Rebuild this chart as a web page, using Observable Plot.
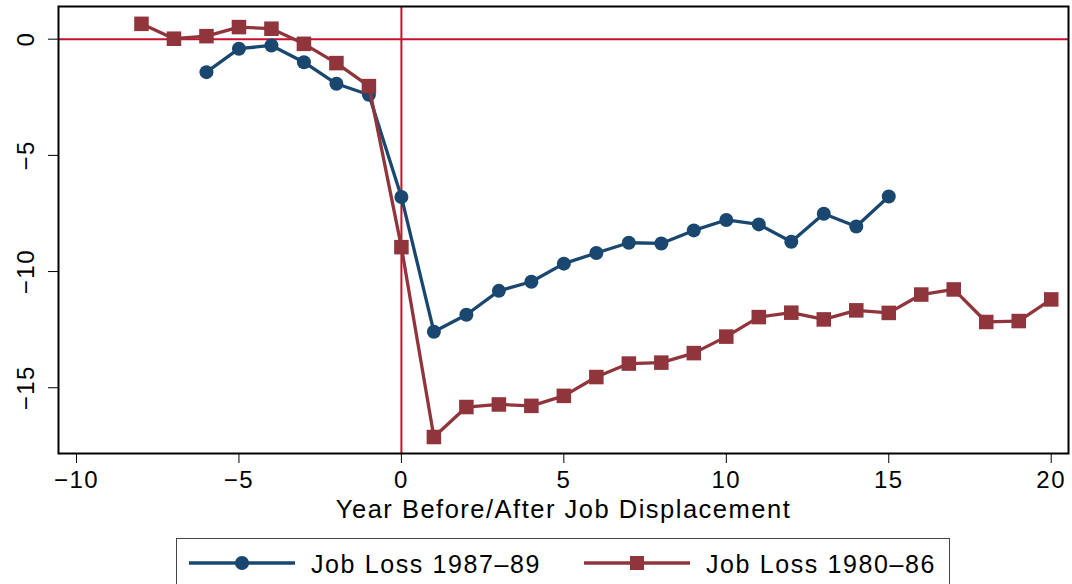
<!DOCTYPE html>
<html>
<head>
<meta charset="utf-8">
<script src="https://cdn.jsdelivr.net/npm/d3@7"></script>
<script src="https://cdn.jsdelivr.net/npm/@observablehq/plot@0.6"></script>
<style>
  html, body { margin: 0; padding: 0; background: #fff; }
  #wrap { position: relative; width: 1072px; height: 584px; overflow: hidden; font-family: "Liberation Sans", Arial, Helvetica, sans-serif; }
  #legend { position: absolute; left: 176px; top: 538px; width: 774px; height: 70px; border: 1.5px solid #444; box-sizing: border-box; }
  .item { position: absolute; top: 0; height: 50px; display: flex; align-items: center; }
  .item span { font-size: 25px; letter-spacing: 1.6px; color: #000; white-space: nowrap; }
</style>
</head>
<body>
<div id="wrap">
  <div id="chart"></div>
  <div id="legend"></div>
</div>
<script>
// ---- Data ----
const years1987 = [-6,-5,-4,-3,-2,-1,0,1,2,3,4,5,6,7,8,9,10,11,12,13,14,15];
const loss1987 = [-1.42,-0.41,-0.27,-0.99,-1.92,-2.39,-6.79,-12.59,-11.86,-10.83,-10.44,-9.66,-9.20,-8.76,-8.79,-8.23,-7.78,-7.97,-8.72,-7.51,-8.06,-6.77];

const years1980 = [-8,-7,-6,-5,-4,-3,-2,-1,0,1,2,3,4,5,6,7,8,9,10,11,12,13,14,15,16,17,18,19,20];
const loss1980 = [0.66,0.02,0.13,0.52,0.45,-0.20,-1.03,-2.02,-8.95,-17.12,-15.83,-15.72,-15.78,-15.35,-14.54,-13.96,-13.92,-13.51,-12.80,-11.96,-11.77,-12.06,-11.67,-11.78,-10.99,-10.77,-12.17,-12.13,-11.20];

const seriesNames = ["Job Loss 1987\u201389", "Job Loss 1980\u201386"];
const xTicks = [-10,-5,0,5,10,15,20];
const yTicks = [0,-5,-10,-15];
const xLabel = "Year Before/After Job Displacement";

// ---- Styles ----
const BLUE = "#1a476f";
const MAROON = "#90353b";
const REF = "#c8102e";

const d1987 = years1987.map((x, i) => ({x, y: loss1987[i]}));
const d1980 = years1980.map((x, i) => ({x, y: loss1980[i]}));

const chart = Plot.plot({
  width: 1072,
  height: 530,
  marginLeft: 58,
  marginRight: 4,
  marginTop: 6,
  marginBottom: 77,
  style: {fontFamily: '"Liberation Sans", Arial, Helvetica, sans-serif', fontSize: "24px", background: "white", color: "black", letterSpacing: "1.5px"},
  x: {domain: [-10.554, 20.532]},
  y: {domain: [-17.83, 1.406]},
  marks: [
    Plot.ruleY([0], {stroke: REF, strokeWidth: 2}),
    Plot.ruleX([0], {stroke: REF, strokeWidth: 2}),
    Plot.line(d1987, {x: "x", y: "y", stroke: BLUE, strokeWidth: 3.3}),
    Plot.dot(d1987, {x: "x", y: "y", r: 7, fill: BLUE, symbol: "circle"}),
    Plot.line(d1980, {x: "x", y: "y", stroke: MAROON, strokeWidth: 3.3}),
    Plot.dot(d1980, {x: "x", y: "y", r: 8.2, fill: MAROON, symbol: "square"}),
    Plot.frame({stroke: "black", strokeWidth: 2}),
    Plot.axisX({ticks: xTicks, tickSize: 10, tickPadding: 7, tickFormat: d3.format(""), fontSize: 24, label: null}),
    Plot.axisX({ticks: [], tickSize: 0, label: xLabel, labelAnchor: "center", labelArrow: "none", labelOffset: 64, fontSize: 25.5}),
    Plot.axisY({ticks: yTicks, tickSize: 10, tickRotate: -90, tickPadding: 15, tickFormat: d3.format(""), label: null, fontSize: 24})
  ]
});
document.getElementById("chart").appendChild(chart);

// ---- Legend ----
const legend = document.getElementById("legend");
const items = [
  {name: seriesNames[0], color: BLUE, symbol: "circle", left: 11, textLeft: 134},
  {name: seriesNames[1], color: MAROON, symbol: "square", left: 406, textLeft: 529}
];
for (const it of items) {
  const sw = document.createElementNS("http://www.w3.org/2000/svg", "svg");
  sw.setAttribute("width", 108); sw.setAttribute("height", 50);
  sw.style.position = "absolute"; sw.style.left = it.left + "px"; sw.style.top = "0px";
  const ln = document.createElementNS("http://www.w3.org/2000/svg", "line");
  ln.setAttribute("x1", 1); ln.setAttribute("x2", 107); ln.setAttribute("y1", 24); ln.setAttribute("y2", 24);
  ln.setAttribute("stroke", it.color); ln.setAttribute("stroke-width", 3.3);
  sw.appendChild(ln);
  if (it.symbol === "circle") {
    const c = document.createElementNS("http://www.w3.org/2000/svg", "circle");
    c.setAttribute("cx", 54); c.setAttribute("cy", 24); c.setAttribute("r", 7); c.setAttribute("fill", it.color);
    sw.appendChild(c);
  } else {
    const r = document.createElementNS("http://www.w3.org/2000/svg", "rect");
    r.setAttribute("x", 47); r.setAttribute("y", 17); r.setAttribute("width", 14); r.setAttribute("height", 14); r.setAttribute("fill", it.color);
    sw.appendChild(r);
  }
  legend.appendChild(sw);
  const t = document.createElement("div");
  t.className = "item"; t.style.left = it.textLeft + "px";
  t.innerHTML = "<span></span>";
  t.firstChild.textContent = it.name;
  legend.appendChild(t);
}
</script>
</body>
</html>
